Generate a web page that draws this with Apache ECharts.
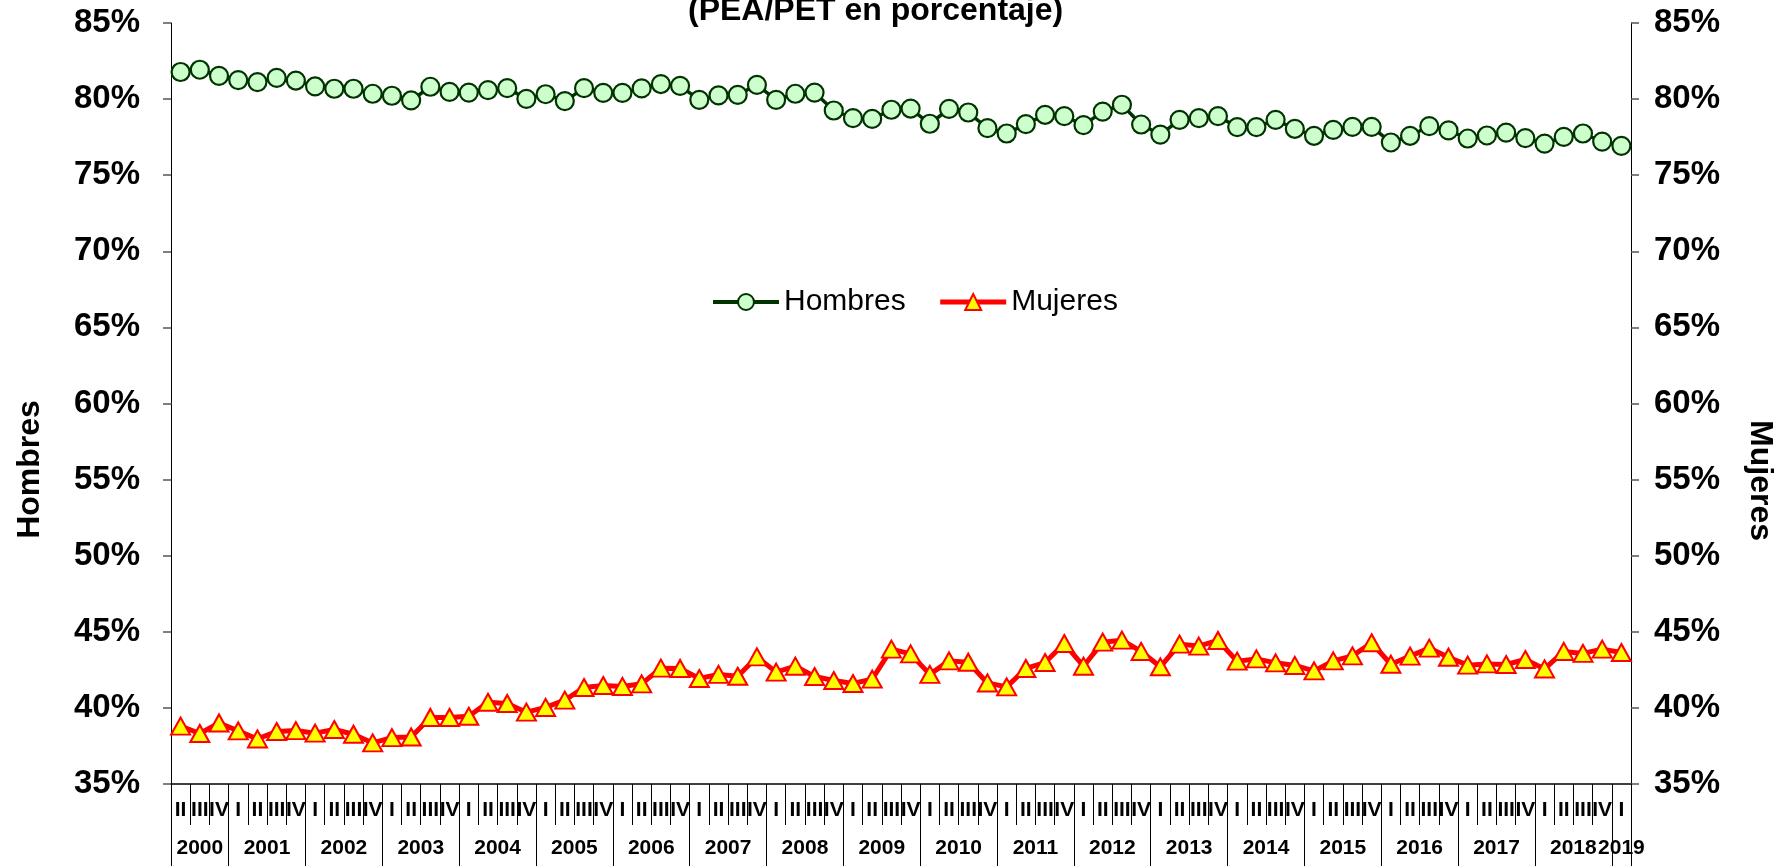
<!DOCTYPE html>
<html>
<head>
<meta charset="utf-8">
<script src="https://cdn.jsdelivr.net/npm/echarts@6/dist/echarts.min.js"></script>
<style>
html,body{margin:0;padding:0;background:#fff;}
#c{width:1786px;height:866px;}
</style>
</head>
<body>
<div id="c"></div>
<script>
const chartTitle = '(PEA/PET en porcentaje)';
const seriesNames = ['Hombres', 'Mujeres'];
const years = ['2000','2001','2002','2003','2004','2005','2006','2007','2008','2009',
  '2010','2011','2012','2013','2014','2015','2016','2017','2018','2019'];
const quarterLabels = [
  'II','III','IV',
  'I','II','III','IV', 'I','II','III','IV', 'I','II','III','IV', 'I','II','III','IV',
  'I','II','III','IV', 'I','II','III','IV', 'I','II','III','IV', 'I','II','III','IV',
  'I','II','III','IV', 'I','II','III','IV', 'I','II','III','IV', 'I','II','III','IV',
  'I','II','III','IV', 'I','II','III','IV', 'I','II','III','IV', 'I','II','III','IV',
  'I','II','III','IV', 'I','II','III','IV',
  'I'
];
const yMin = 35, yMax = 85, yStep = 5;
const hombres = [
  81.78, 81.93, 81.53, 81.25, 81.12, 81.40, 81.22, 80.83, 80.68, 80.68,
  80.35, 80.22, 79.91, 80.81, 80.48, 80.43, 80.59, 80.72, 80.02, 80.32,
  79.87, 80.72, 80.41, 80.41, 80.70, 80.99, 80.87, 79.95, 80.24, 80.28,
  80.94, 79.95, 80.35, 80.43, 79.25, 78.75, 78.70, 79.30, 79.38, 78.38,
  79.36, 79.12, 78.09, 77.74, 78.36, 78.97, 78.88, 78.29, 79.18, 79.63,
  78.33, 77.67, 78.64, 78.75, 78.88, 78.16, 78.16, 78.64, 78.05, 77.59,
  77.98, 78.18, 78.18, 77.15, 77.59, 78.22, 77.94, 77.41, 77.61, 77.80,
  77.44, 77.08, 77.52, 77.74, 77.21, 76.93
];
const mujeres = [
  38.80, 38.32, 39.01, 38.49, 37.96, 38.45, 38.51, 38.34, 38.58, 38.27,
  37.70, 38.05, 38.09, 39.37, 39.37, 39.45, 40.37, 40.29, 39.72, 40.03,
  40.51, 41.34, 41.47, 41.41, 41.58, 42.61, 42.59, 41.93, 42.20, 42.08,
  43.35, 42.35, 42.74, 42.06, 41.80, 41.60, 41.89, 43.86, 43.55, 42.20,
  43.09, 43.00, 41.64, 41.38, 42.59, 42.98, 44.23, 42.74, 44.32, 44.45,
  43.71, 42.70, 44.19, 44.06, 44.43, 43.07, 43.22, 42.96, 42.79, 42.43,
  43.09, 43.42, 44.28, 42.87, 43.40, 43.93, 43.33, 42.81, 42.89, 42.85,
  43.18, 42.56, 43.71, 43.58, 43.86, 43.64
];

const FONT = '"Liberation Sans", Arial, Helvetica, sans-serif';

// Year axis: half-quarter resolution so year labels sit centred over their quarters
const nQ = quarterLabels.length;
const yearAxisData = new Array(nQ * 2 + 1).fill('');
const yearBoundary = new Set([0, nQ * 2]);
const starts = [];
quarterLabels.forEach((q, i) => { if (i === 0 || q === 'I') starts.push(i); });
starts.forEach((s, k) => {
  const e = k + 1 < starts.length ? starts[k + 1] : nQ;
  yearAxisData[s + e] = years[k];
  yearBoundary.add(2 * s);
});

const chart = echarts.init(document.getElementById('c'), null, {renderer: 'canvas'});

function yAxisCfg(pos, name, rot, pad, gap, margin) {
  return {
    type: 'value', min: yMin, max: yMax, interval: yStep, position: pos,
    name: name, nameLocation: 'middle', nameGap: gap, nameRotate: rot,
    nameTextStyle: {fontFamily: FONT, fontSize: 32, fontWeight: 'bold', color: '#000', padding: pad},
    axisLine: {show: true, lineStyle: {color: '#000', width: 1}},
    axisTick: {show: true, length: 8, lineStyle: {color: '#555', width: 1.5}},
    axisLabel: {formatter: '{value}%', margin: margin, fontFamily: FONT, fontSize: 33, fontWeight: 'bold', color: '#000', hideOverlap: false},
    splitLine: {show: false}
  };
}

const green = '#003300', lightGreen = '#ccffcc', red = '#ff0000', yellow = '#ffff00';

chart.setOption({
  animation: false,
  backgroundColor: '#fff',
  title: {
    text: chartTitle, left: 683, top: -10,
    textStyle: {fontFamily: FONT, fontSize: 32, fontWeight: 'bold', color: '#000'}
  },
  legend: {
    data: [
      {name: seriesNames[0], lineStyle: {width: 4, color: green}},
      {name: seriesNames[1], lineStyle: {width: 5, color: red}}
    ],
    left: 706, top: 282,
    itemWidth: 66, itemHeight: 20, itemGap: 32,
    textStyle: {fontFamily: FONT, fontSize: 30, color: '#000'}
  },
  grid: {left: 171, right: 155, top: 23, bottom: 82},
  xAxis: [
    {
      type: 'category', data: quarterLabels, position: 'bottom', boundaryGap: true,
      axisLine: {show: true, lineStyle: {color: '#000', width: 1.5}},
      axisTick: {show: true, interval: 0, length: 41, lineStyle: {color: '#000', width: 1}},
      axisLabel: {interval: 0, margin: 16, fontFamily: FONT, fontSize: 21, fontWeight: 'bold', color: '#000', hideOverlap: false},
      splitLine: {show: false}
    },
    {
      type: 'category', data: yearAxisData, position: 'bottom', boundaryGap: false,
      axisLine: {show: false},
      axisTick: {show: true, interval: (i) => yearBoundary.has(i), length: 82, lineStyle: {color: '#000', width: 1}},
      axisLabel: {interval: (i, v) => v !== '', margin: 54, fontFamily: FONT, fontSize: 21, fontWeight: 'bold', color: '#000', hideOverlap: false},
      splitLine: {show: false}
    }
  ],
  yAxis: [
    yAxisCfg('left', seriesNames[0], 90, [0, 132, 0, 0], 125, 31),
    yAxisCfg('right', seriesNames[1], -90, [0, 0, 0, 154], 113, 23)
  ],
  series: [
    {
      name: seriesNames[0], type: 'line', data: hombres, xAxisIndex: 0, yAxisIndex: 0,
      symbol: 'circle', symbolSize: 18, showAllSymbol: true,
      lineStyle: {color: green, width: 3.5},
      itemStyle: {color: lightGreen, borderColor: green, borderWidth: 2.2},
      emphasis: {disabled: true}, z: 3
    },
    {
      name: seriesNames[1], type: 'line', data: mujeres, xAxisIndex: 0, yAxisIndex: 1,
      symbol: 'triangle', symbolSize: [19, 17], showAllSymbol: true,
      lineStyle: {color: red, width: 5},
      itemStyle: {color: yellow, borderColor: red, borderWidth: 2},
      emphasis: {disabled: true}, z: 3
    }
  ]
});
</script>
</body>
</html>
